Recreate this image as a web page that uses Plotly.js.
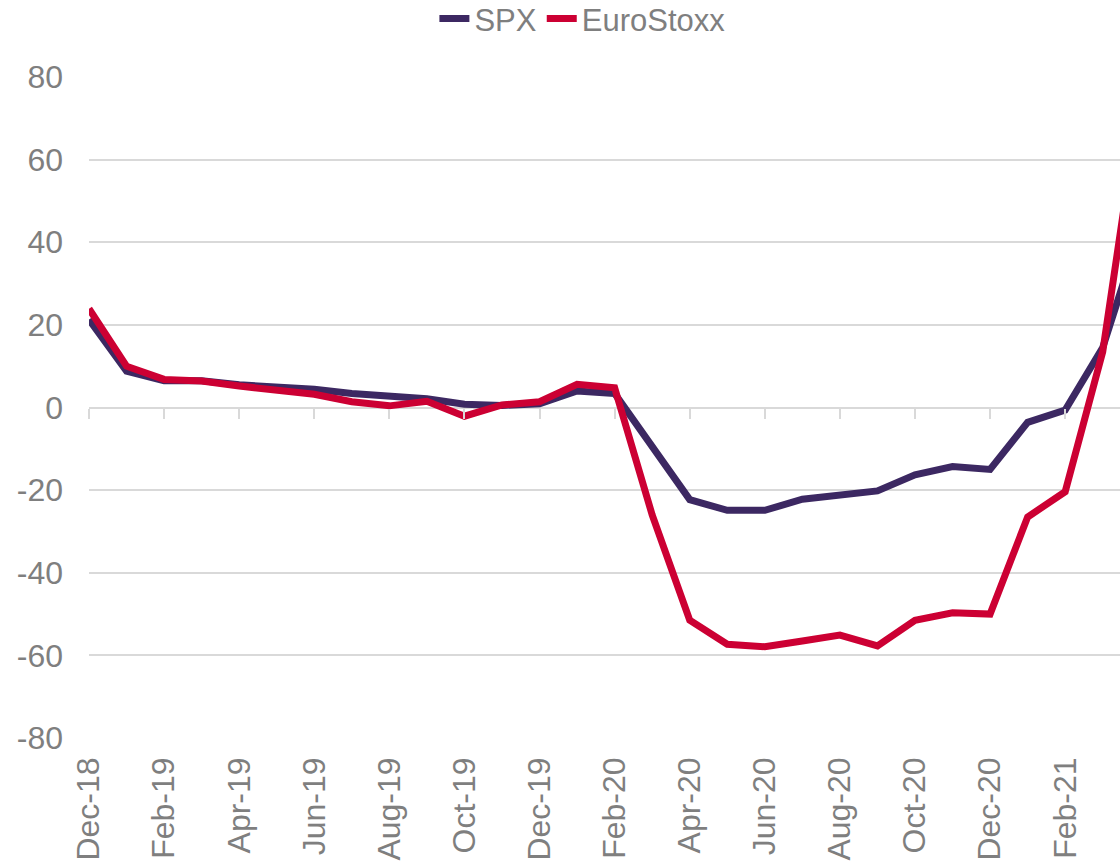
<!DOCTYPE html>
<html>
<head>
<meta charset="utf-8">
<script src="https://cdn.plot.ly/plotly-3.0.1.min.js"></script>
<style>
  html, body { margin: 0; padding: 0; background: #ffffff; }
  #chart { width: 1120px; height: 861px; }
</style>
</head>
<body>
<div id="chart"></div>
<script>
// Month labels (monthly data, Dec-18 to Apr-21)
const categories = ['Dec-18','Jan-19','Feb-19','Mar-19','Apr-19','May-19','Jun-19','Jul-19','Aug-19','Sep-19','Oct-19','Nov-19','Dec-19',
  'Jan-20','Feb-20','Mar-20','Apr-20','May-20','Jun-20','Jul-20','Aug-20','Sep-20','Oct-20','Nov-20','Dec-20',
  'Jan-21','Feb-21','Mar-21','Apr-21'];

const spx = [21.3, 8.8, 6.5, 6.5, 5.5, 5.1, 4.4, 3.4, 2.9, 2.1, 0.8, 0.5, 0.9,
  4.0, 3.4, -9.1, -22.3, -24.9, -24.9, -22.2, -21.0, -20.2, -16.3, -14.3, -15.0,
  -3.6, -0.6, 14.5, 43];

const euroStoxx = [23.9, 10.0, 6.8, 6.4, 5.2, 4.3, 3.2, 1.4, 0.4, 1.5, -2.1, 0.6, 1.4,
  5.6, 4.8, -26.0, -51.5, -57.3, -57.9, -56.5, -55.1, -57.7, -51.5, -49.7, -50.0,
  -26.5, -20.4, 13.5, 75];

// Tick labels shown every second month
const tickLabels = ['Dec-18','Feb-19','Apr-19','Jun-19','Aug-19','Oct-19','Dec-19',
  'Feb-20','Apr-20','Jun-20','Aug-20','Oct-20','Dec-20','Feb-21'];

const yTicks = [-80, -60, -40, -20, 0, 20, 40, 60, 80];
const yTickText = ['-80', '-60', '-40', '-20', '0', '20', '40', '60', '80'];

const FONT = '"Liberation Sans", Arial, sans-serif';
const GREY = '#7f7f7f';
const GRID = '#d9d9d9';

const traces = [
  {
    x: categories, y: spx, name: 'SPX', type: 'scatter', mode: 'lines',
    line: { color: '#3c2862', width: 7, shape: 'linear' },
    xaxis: 'x', yaxis: 'y'
  },
  {
    x: categories, y: euroStoxx, name: 'EuroStoxx', type: 'scatter', mode: 'lines',
    line: { color: '#cc0033', width: 7, shape: 'linear' },
    xaxis: 'x2', yaxis: 'y'
  }
];

const layout = {
  width: 1120, height: 861,
  margin: { l: 89, r: 0, t: 77, b: 123, pad: 0, autoexpand: false },
  paper_bgcolor: '#ffffff', plot_bgcolor: '#ffffff',
  font: { family: FONT, size: 32, color: GREY },
  showlegend: true,
  legend: {
    orientation: 'h', xref: 'container', yref: 'container',
    x: 0.52, xanchor: 'center', y: 0.978, yanchor: 'middle',
    font: { family: FONT, size: 31, color: GREY },
    itemwidth: 30, tracegroupgap: 0
  },
  xaxis: {
    type: 'category', categoryorder: 'array', categoryarray: categories,
    range: [0, 27.46],
    tickmode: 'array', tickvals: tickLabels, ticktext: tickLabels,
    tickangle: -90, ticks: '', showgrid: false, zeroline: false, showline: false,
    ticklabelstandoff: 12,
    tickfont: { family: FONT, size: 32, color: GREY },
    fixedrange: true
  },
  xaxis2: {
    type: 'category', matches: 'x', overlaying: 'x', anchor: 'free', position: 0.5, side: 'bottom',
    categoryorder: 'array', categoryarray: categories,
    tickmode: 'array', tickvals: tickLabels,
    showticklabels: false, ticks: 'outside', ticklen: 10, tickwidth: 2, tickcolor: GRID,
    showgrid: false, zeroline: false, showline: false
  },
  yaxis: {
    range: [-80, 80], tickmode: 'array', tickvals: yTicks, ticktext: yTickText,
    showgrid: true, gridcolor: GRID, gridwidth: 2,
    zeroline: true, zerolinecolor: GRID, zerolinewidth: 2,
    showline: false, ticks: '',
    ticklabelstandoff: 25,
    tickfont: { family: FONT, size: 32, color: GREY },
    fixedrange: true
  }
};

Plotly.newPlot('chart', traces, layout, { staticPlot: true, displayModeBar: false });
</script>
</body>
</html>
